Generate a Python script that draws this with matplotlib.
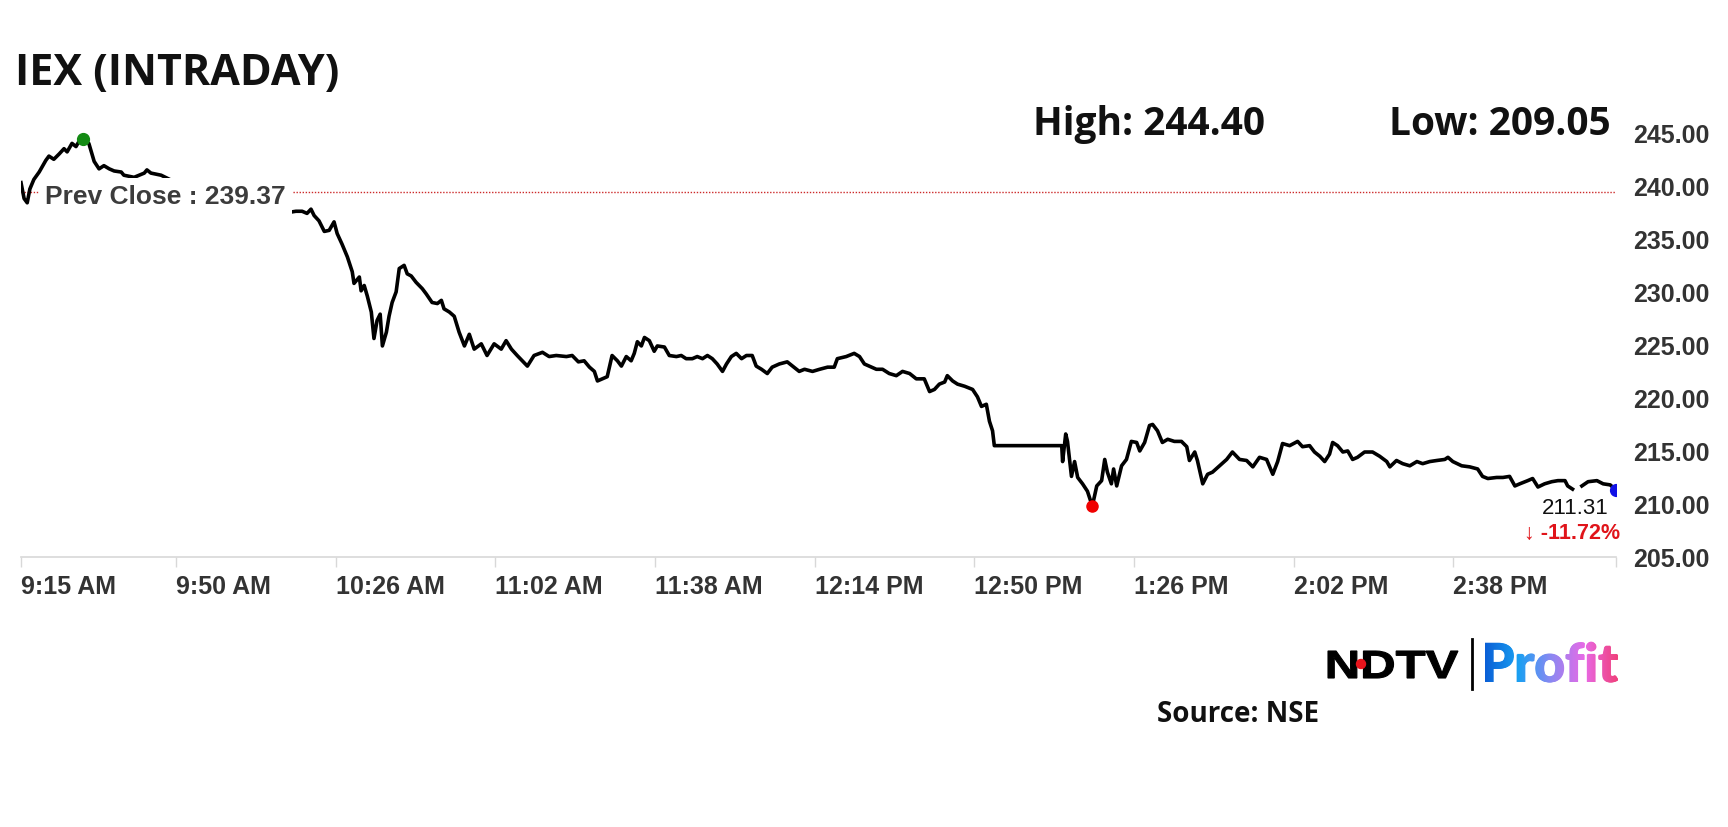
import numpy as np
import matplotlib
matplotlib.use("Agg")
import matplotlib.pyplot as plt
from matplotlib.textpath import TextPath
from matplotlib.patches import PathPatch, Circle
from matplotlib.font_manager import FontProperties
from matplotlib.transforms import Affine2D
from matplotlib.colors import LinearSegmentedColormap

######## Datos ########
# minutos desde 9:15 y precio
t_open = [0.0, 0.7, 1.4, 2.0, 2.9, 4.1, 5.6, 6.3, 7.4, 8.6, 9.7, 10.4, 11.5, 12.4, 13.1, 14.0,
          15.3, 16.5, 17.6, 18.7, 19.9, 21.0, 22.6, 23.2, 25.5, 27.8, 28.4, 29.3, 31.6, 34.5,
          37.9, 41.3, 43.5, 45.4, 46.0, 49.2, 52.6, 56.0, 58.9]
p_open = [240.3, 238.8, 238.4, 239.7, 240.6, 241.3, 242.4, 242.8, 242.5, 243.0, 243.5, 243.2, 244.0, 243.7, 244.2, 244.4,
          244.0, 242.3, 241.6, 241.9, 241.6, 241.4, 241.3, 241.0, 240.8, 241.2, 241.5, 241.2, 241.0, 240.4,
          239.8, 239.3, 239.0, 237.5, 238.8, 238.5, 238.6, 238.2, 237.8]

t_slide = [60.5, 62.0, 63.4, 64.5, 65.4, 66.1, 67.2, 68.4, 69.5, 70.6, 71.3, 72.4, 73.6, 74.7, 75.1,
           76.3, 76.7, 77.4, 78.1, 79.0, 79.6, 80.3, 81.0, 81.5, 82.4, 83.0, 83.7, 84.6, 85.3, 86.4,
           87.1, 88.0, 89.1, 90.5, 91.4, 92.7, 93.9, 94.8, 95.4, 96.6, 97.7, 98.8, 100.0, 101.1,
           102.2, 103.8, 105.1, 106.7, 108.3, 109.4, 110.6, 111.9, 114.2, 115.7, 117.6, 119.1,
           120.7, 123.0, 124.3, 125.7]
p_slide = [237.5, 237.6, 237.6, 237.4, 237.8, 237.2, 236.7, 235.7, 235.8, 236.6, 235.5, 234.5, 233.3, 231.9, 230.8,
           231.4, 230.1, 230.6, 229.6, 228.1, 225.6, 227.3, 227.9, 224.9, 226.2, 227.7, 229.0, 230.0, 232.2, 232.5,
           231.7, 231.5, 230.9, 230.3, 229.8, 229.0, 228.9, 229.2, 228.4, 228.1, 227.7, 226.2, 224.9, 226.0,
           224.6, 225.1, 224.0, 225.1, 224.6, 225.4, 224.6, 224.0, 223.0, 224.0, 224.3, 223.9,
           224.0, 223.9, 224.0, 223.4]

t_mid = [127.0, 128.2, 129.3, 130.0, 131.1, 132.2, 133.3, 134.5, 135.4, 136.5, 137.6, 138.3, 139.0, 139.9,
         140.6, 141.7, 142.8, 143.5, 145.1, 146.2, 147.8, 148.9, 150.0, 151.4, 152.5, 153.7, 154.8, 155.9,
         157.0, 158.2, 159.1, 160.2, 161.3, 162.5, 163.6, 164.9, 165.8, 167.0, 168.3, 169.4, 171.0, 172.8,
         174.0, 175.5, 176.7, 178.5, 180.1, 181.9, 183.4, 184.1, 186.1, 187.9, 189.1, 190.2, 191.3, 192.9,
         194.3, 195.8, 197.4, 198.8, 200.4, 201.9, 203.7, 204.9, 206.0, 207.1, 208.3, 208.9, 210.1, 211.2,
         212.8, 214.6, 215.7, 216.6, 217.7, 218.4, 219.1, 219.5, 234.7]
p_mid = [223.5, 222.9, 222.5, 221.6, 221.8, 222.0, 224.0, 223.5, 223.0, 223.9, 223.5, 224.2, 225.3, 224.9,
         225.7, 225.4, 224.4, 224.9, 224.8, 224.0, 223.9, 224.0, 223.7, 223.7, 223.9, 223.7, 224.0, 223.7,
         223.2, 222.5, 223.2, 223.9, 224.2, 223.7, 224.0, 224.0, 223.0, 222.7, 222.3, 222.9, 223.2, 223.4,
         223.0, 222.5, 222.7, 222.5, 222.7, 222.9, 222.9, 223.7, 223.9, 224.2, 223.9, 223.2, 223.0, 222.7,
         222.7, 222.3, 222.1, 222.5, 222.3, 221.8, 221.8, 220.6, 220.8, 221.3, 221.5, 222.1, 221.6, 221.3,
         221.1, 220.8, 220.1, 219.2, 219.4, 217.8, 216.9, 215.5, 215.5]

t_after = [234.9, 235.6, 236.0, 236.9, 237.6, 238.3, 239.4, 240.5, 241.6, 242.6, 243.7, 244.4, 245.0,
           245.9, 246.4, 247.1, 248.2, 249.3, 250.4, 251.6, 252.3, 253.4, 254.5, 255.2, 256.3, 257.4,
           258.6, 260.1, 261.7, 262.9, 263.5, 264.7, 265.3, 266.5, 267.6, 268.7, 270.3, 271.9, 273.2,
           274.8, 276.4, 277.8, 279.3, 280.9, 282.3, 283.4, 284.5, 286.1, 287.9, 289.0, 290.6, 291.7,
           292.9, 294.0, 295.1, 295.8, 296.9, 298.1, 299.2, 300.3, 301.4, 303.0, 304.8, 306.4, 308.0]
p_after = [214.0, 216.6, 215.9, 212.6, 214.0, 212.5, 211.9, 211.2, 209.8, 211.7, 212.2, 214.2, 213.0,
           211.9, 213.3, 211.7, 213.6, 214.2, 215.9, 215.8, 215.0, 215.8, 217.4, 217.5, 216.9, 215.8,
           216.1, 215.9, 215.9, 215.4, 214.1, 214.9, 214.1, 211.9, 212.8, 213.0, 213.6, 214.2, 214.9,
           214.2, 214.1, 213.5, 214.4, 214.2, 212.8, 214.0, 215.7, 215.5, 215.9, 215.4, 215.5, 214.9,
           214.5, 214.0, 214.7, 215.8, 215.5, 214.9, 215.0, 214.2, 214.4, 214.9, 214.9, 214.5, 214.0]

t_close = [308.7, 310.2, 311.6, 313.2, 314.8, 316.1, 317.7, 319.3, 321.1, 321.8, 322.9, 324.9, 326.7,
           328.5, 329.6, 330.8, 332.8, 334.2, 335.7, 336.9, 338.0, 339.8, 340.9, 342.1, 343.6, 345.2,
           346.6, 348.2, 348.8, 349.9, 351.0, 352.0, 353.4, 355.4, 356.8, 358.4, 359.7]
p_close = [213.5, 214.1, 213.8, 213.6, 214.0, 213.8, 214.0, 214.1, 214.2, 214.4, 214.0, 213.6, 213.5,
           213.3, 212.6, 212.4, 212.5, 212.5, 212.6, 211.7, 211.9, 212.2, 212.4, 211.6, 211.9, 212.1,
           212.2, 212.2, 211.7, 211.4, np.nan, 211.7, 212.1, 212.2, 211.9, 211.8, 211.31]

tick_minutes = [0, 35, 71, 107, 143, 179, 215, 251, 287, 323]
tick_labels = ['9:15 AM', '9:50 AM', '10:26 AM', '11:02 AM', '11:38 AM',
               '12:14 PM', '12:50 PM', '1:26 PM', '2:02 PM', '2:38 PM']
y_ticks = [205, 210, 215, 220, 225, 230, 235, 240, 245]

prev_close = 239.37
day_high = 244.40
day_low = 209.05
last_price = 211.31
change_pct = -11.72

######## Figura ########
W, H = 1728, 828
fig = plt.figure(figsize=(W / 100, H / 100), dpi=100)
fig.patch.set_facecolor('white')

t = np.array(t_open + t_slide + t_mid + t_after + t_close)
p = np.array(p_open + p_slide + p_mid + p_after + p_close)
t_end = t_close[-1]

ax = fig.add_axes([21 / W, 1 - 558 / H, (1616 - 21) / W, (558 - 120) / H])
ax.set_xlim(0, t_end)
ax.set_ylim(205, 246.3)

ax.plot(t, p, color='black', linewidth=2.6, solid_joinstyle='round', zorder=3)
ax.axhline(prev_close, color='#cc2a2a', linewidth=1, linestyle=(0, (1, 1.2)), zorder=2)

i_hi = np.nanargmax(p)
i_lo = np.nanargmin(p)
ax.plot(t[i_hi], p[i_hi], 'o', color='#138a13', markersize=8.5, zorder=5)
ax.plot(t[i_lo], p[i_lo], 'o', color='#f00000', markersize=8, zorder=5)
ax.plot(t_end, last_price, 'o', color='#1010e6', markersize=8.5, zorder=5)

# etiqueta prev close con fondo blanco (tapa la linea)
ax.annotate('Prev Close : %.2f' % prev_close, xy=(0, prev_close), xytext=(24, -11),
            textcoords='offset pixels', ha='left', va='baseline', fontsize=19,
            fontweight='bold', color='#3c3c3c', family='Liberation Sans', zorder=6,
            bbox=dict(facecolor='white', edgecolor='none', pad=4.6))

ax.annotate('%.2f' % last_price, xy=(t_end, last_price), xytext=(-7, -17),
            textcoords='offset pixels', ha='right', va='center', fontsize=16,
            color='#111111', family='Liberation Sans', zorder=6)
ax.annotate('\u2193 %.2f%%' % change_pct, xy=(t_end, last_price), xytext=(4, -42),
            textcoords='offset pixels', ha='right', va='center', fontsize=15.5,
            fontweight='bold', color='#e0141a', family=['Liberation Sans', 'DejaVu Sans'], zorder=6)

for s in ['left', 'top', 'right']:
    ax.spines[s].set_visible(False)
ax.spines['bottom'].set_color('#d8d8d8')
ax.spines['bottom'].set_linewidth(1.2)

ax.set_xticks(tick_minutes + [t_end])
ax.set_xticklabels(tick_labels + [''], ha='left')
ax.tick_params(axis='x', length=7, width=1, color='#d8d8d8', pad=5,
               labelsize=18, labelcolor='#333333')
for lab in ax.get_xticklabels():
    lab.set_fontweight('bold')
    lab.set_family('Liberation Sans')

ax.yaxis.tick_right()
ax.set_yticks(y_ticks)
ax.set_yticklabels(['%.2f' % v for v in y_ticks])
ax.tick_params(axis='y', length=0, pad=12, labelsize=18, labelcolor='#333333')
for lab in ax.get_yticklabels():
    lab.set_fontweight('bold')
    lab.set_family('Liberation Sans')

######## Textos ########
fig.text(15 / W, 1 - 85 / H, 'IEX (INTRADAY)', fontsize=31, fontweight='bold',
         family='Open Sans', va='baseline', color='#111111')
fig.text(1033 / W, 1 - 135 / H, 'High: %.2f' % day_high, fontsize=28, fontweight='bold',
         family='Open Sans', va='baseline', color='#111111')
fig.text(1611 / W, 1 - 135 / H, 'Low: %.2f' % day_low, fontsize=28, fontweight='bold',
         family='Open Sans', va='baseline', ha='right', color='#111111')
fig.text(1157 / W, 1 - 722 / H, 'Source: NSE', fontsize=20, fontweight='bold',
         family='Open Sans', va='baseline', color='#111111')

######## Logo ########
lax = fig.add_axes([1320 / W, 1 - 700 / H, 310 / W, 70 / H])
lax.axis('off')

tp = TextPath((0, 0), 'NDTV', size=40, prop=FontProperties(family='Liberation Sans', weight='bold'))
ext = tp.get_extents()
tr = Affine2D().translate(-ext.x0, -ext.y0).scale(130 / ext.width, 27 / ext.height).translate(1328, H - 679)
lax.add_patch(PathPatch(tr.transform_path(tp), facecolor='black', edgecolor='black', linewidth=0.8))
lax.add_patch(Circle((1361, H - 665), 4.5, color='#e8141c', zorder=4))
lax.plot([1472, 1472], [H - 690, H - 640], color='black', linewidth=2)

tp2 = TextPath((0, 0), 'Profit', size=48, prop=FontProperties(family='Lato', weight='black'))
ext2 = tp2.get_extents()
sc = 133 / ext2.width
tr2 = Affine2D().translate(-ext2.x0, 0).scale(sc).translate(1485, H - 683)
cmap = LinearSegmentedColormap.from_list('profit', ['#0a5fd6', '#1aa0f2', '#8c88f2', '#e86ae6', '#f0407c'])
# degradado recortado por el texto (copias desplazadas para engrosar)
for dx, dy in [(0, 0), (0.7, 0), (-0.7, 0), (0, 0.7)]:
    path2 = (tr2 + Affine2D().translate(dx, dy)).transform_path(tp2)
    patch2 = PathPatch(path2, facecolor='none', edgecolor='none')
    lax.add_patch(patch2)
    im = lax.imshow(np.linspace(0, 1, 256).reshape(1, -1), cmap=cmap, aspect='auto', origin='lower',
                    extent=(1485, 1618, H - 695, H - 630))
    im.set_clip_path(patch2)
lax.set_xlim(1320, 1630)
lax.set_ylim(H - 700, H - 630)

plt.savefig('out.png', dpi=100)
